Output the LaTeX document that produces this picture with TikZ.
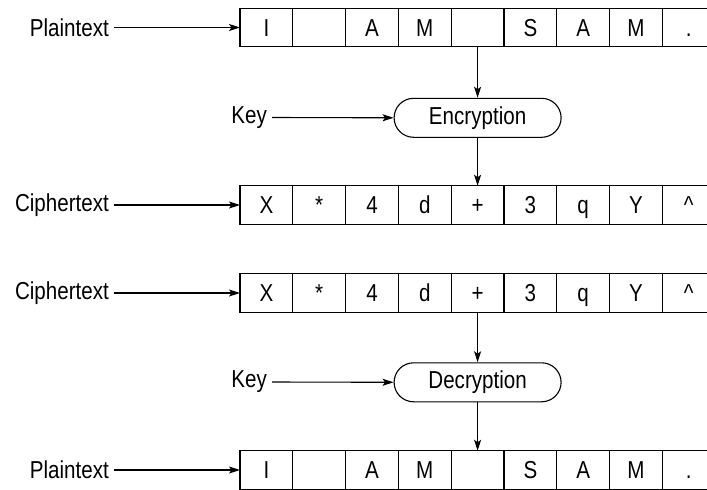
\documentclass[tikz,border=0pt]{standalone}
\usepackage{fontspec}
\setmainfont{Liberation Sans}[FakeStretch=0.84]
\usetikzlibrary{arrows.meta, positioning, shapes.misc}

\begin{document}
\begin{tikzpicture}[
  x=1pt, y=-1pt,
  every node/.style={font=\fontsize{24.5}{28}\selectfont},
  cell/.style={draw, line width=1.1pt, minimum width=52.8pt,
               minimum height=38.5pt, inner sep=0pt, outer sep=0pt,
               text height=17pt, text depth=0pt},
  proc/.style={draw, line width=1.1pt, rounded rectangle,
               minimum width=171pt, minimum height=39pt, inner sep=2pt},
  lbl/.style={inner sep=5pt, anchor=east},
  arr/.style={-{Stealth[length=11pt, width=7pt, inset=2.5pt]}, line width=1.1pt},
]
\path[use as bounding box, clip] (0,0) rectangle (707,490);

% Rows of cells
\foreach \txt [count=\i] in {I,{},A,M,{},S,A,M,.}
  \node[cell] (pa\i) at ({240+(\i-0.5)*52.8}, 27.5) {\txt};
\foreach \txt [count=\i] in {X,*,4,d,+,3,q,Y,\textasciicircum}
  \node[cell] (ca\i) at ({240+(\i-0.5)*52.8}, 205) {\txt};
\foreach \txt [count=\i] in {X,*,4,d,+,3,q,Y,\textasciicircum}
  \node[cell] (cb\i) at ({240+(\i-0.5)*52.8}, 293) {\txt};
\foreach \txt [count=\i] in {I,{},A,M,{},S,A,M,.}
  \node[cell] (pb\i) at ({240+(\i-0.5)*52.8}, 470) {\txt};

% Encryption / Decryption
\node[proc, below=51pt of pa5] (enc) {Encryption};
\node[proc, below=50pt of cb5] (dec) {Decryption};

% Labels on the left
\node[lbl] (ptA) at (114,27.5) {Plaintext};
\node[lbl] (ctA) at (114,205) {Ciphertext};
\node[lbl] (ctB) at (114,293) {Ciphertext};
\node[lbl] (ptB) at (114,470) {Plaintext};
\node[lbl] (keyA) at (272,117.5) {Key};
\node[lbl] (keyB) at (272,382) {Key};

% Arrows into the rows
\draw[arr] (ptA.east) -- (pa1.west);
\draw[arr] (ctA.east) -- (ca1.west);
\draw[arr] (ctB.east) -- (cb1.west);
\draw[arr] (ptB.east) -- (pb1.west);

% Keys
\draw[arr] (keyA.east) -- (enc.west);
\draw[arr] (keyB.east) -- (dec.west);

% Through the processes
\draw[arr] (pa5.south) -- (enc.north);
\draw[arr] (enc.south) -- (ca5.north);
\draw[arr] (cb5.south) -- (dec.north);
\draw[arr] (dec.south) -- (pb5.north);

\end{tikzpicture}
\end{document}
